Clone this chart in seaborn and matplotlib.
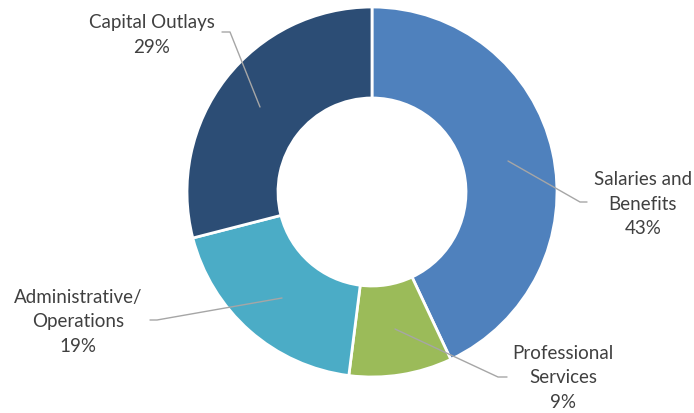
import matplotlib
matplotlib.use("Agg")
import matplotlib.pyplot as plt
import seaborn as sns

# data
categories = ["Salaries and\nBenefits", "Professional\nServices", "Administrative/\nOperations", "Capital Outlays"]
shares = [43, 9, 19, 29]
colors = ["#4F81BD", "#9BBB59", "#4BACC6", "#2C4D75"]

# label placement in pixel coords (x, y from top), and leader line points
label_xy = [(643, 204), (563, 378), (78, 322), (152, 35)]
leader_pts = [
    [(587, 203), (580, 203), (508, 162)],
    [(507, 378), (498, 378), (395, 330)],
    [(150, 321), (157, 321), (282, 299)],
    [(222, 33), (230, 33), (260, 108)],
]

sns.set_theme(style="white")
plt.rcParams["font.family"] = ["Lato", "DejaVu Sans"]

W, H = 694, 414
fig = plt.figure(figsize=(W / 100, H / 100), dpi=100)
ax = fig.add_axes([0, 0, 1, 1])

cx, cy, r = 372, H - 193, 185
ax.pie(shares, colors=colors, startangle=90, counterclock=False,
       center=(cx, cy), radius=r,
       wedgeprops=dict(width=91, edgecolor="white", linewidth=2))

ax.set_xlim(0, W)
ax.set_ylim(0, H)
ax.set_aspect("equal", adjustable="box")
ax.axis("off")

for cat, val, (lx, ly), pts in zip(categories, shares, label_xy, leader_pts):
    ax.text(lx, H - ly, f"{cat}\n{val}%", ha="center", va="center",
            fontsize=13.5, color="#404040", linespacing=1.55)
    xs = [p[0] for p in pts]
    ys = [H - p[1] for p in pts]
    ax.plot(xs, ys, color="#A6A6A6", lw=1)

fig.savefig("out.png", dpi=100)
